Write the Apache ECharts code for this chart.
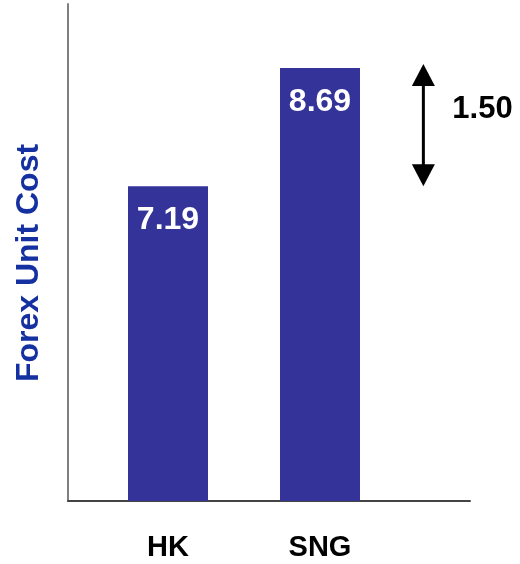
<!DOCTYPE html>
<html>
<head>
<meta charset="utf-8">
<script src="https://cdn.jsdelivr.net/npm/echarts@6/dist/echarts.min.js"></script>
<style>
  html, body { margin: 0; padding: 0; background: #fff; }
  #chart { width: 520px; height: 564px; }
</style>
</head>
<body>
<div id="chart"></div>
<script>
// Forex unit cost per market
const categories = ['HK', 'SNG'];
const costValues = [7.19, 8.69];
const axisTitle = 'Forex Unit Cost';

// Value range shown on the (unlabelled) vertical axis
const yMin = 3.2;
const yMax = 9.5;

const FONT = '"Liberation Sans", Arial, sans-serif';
const BAR_COLOR = '#333399';

// Difference between the two markets, shown beside the arrow
const low = Math.min(...costValues);
const high = Math.max(...costValues);
const diffText = (high - low).toFixed(2);

const chart = echarts.init(document.getElementById('chart'));

const option = {
  animation: false,
  backgroundColor: '#ffffff',
  grid: [
    // bars
    { left: 92, right: 124, top: 4, bottom: 63 },
    // frame and difference annotation
    { left: 68, right: 50, top: 4, bottom: 63 }
  ],
  xAxis: [
    {
      type: 'category',
      gridIndex: 0,
      data: categories,
      axisLine: { show: false },
      axisTick: { show: false },
      axisLabel: {
        margin: 32,
        color: '#000',
        fontFamily: FONT,
        fontWeight: 'bold',
        fontSize: 29
      }
    },
    {
      type: 'value',
      gridIndex: 1,
      min: 0,
      max: 100,
      axisLine: { show: true, onZero: false, lineStyle: { color: '#444', width: 2 } },
      axisTick: { show: false },
      axisLabel: { show: false },
      splitLine: { show: false }
    }
  ],
  yAxis: [
    {
      type: 'value',
      gridIndex: 0,
      min: yMin,
      max: yMax,
      axisLine: { show: false },
      axisTick: { show: false },
      axisLabel: { show: false },
      splitLine: { show: false }
    },
    {
      type: 'value',
      gridIndex: 1,
      min: yMin,
      max: yMax,
      axisLine: { show: true, lineStyle: { color: '#808080', width: 2 } },
      axisTick: { show: false },
      axisLabel: { show: false },
      splitLine: { show: false }
    }
  ],
  graphic: [
    {
      type: 'text',
      x: 29,
      y: 263,
      rotation: Math.PI / 2,
      style: {
        text: axisTitle,
        fill: '#1530a0',
        font: 'bold 32px ' + FONT,
        align: 'center',
        verticalAlign: 'middle'
      }
    }
  ],
  series: [
    {
      type: 'bar',
      xAxisIndex: 0,
      yAxisIndex: 0,
      data: costValues,
      barWidth: 80,
      itemStyle: { color: BAR_COLOR },
      label: {
        show: true,
        position: 'insideTop',
        distance: 18,
        color: '#ffffff',
        fontFamily: FONT,
        fontWeight: 'bold',
        fontSize: 32,
        formatter: (p) => p.value.toFixed(2)
      }
    },
    {
      // double-headed arrow spanning the gap between the two bar tops
      type: 'custom',
      xAxisIndex: 1,
      yAxisIndex: 1,
      data: [[88.4, low, high]],
      clip: false,
      renderItem: function (params, api) {
        const top = api.coord([api.value(0), api.value(2)]);
        const bottom = api.coord([api.value(0), api.value(1)]);
        const x = top[0];
        const headW = 23;
        const headH = 22;
        return {
          type: 'group',
          children: [
            {
              type: 'line',
              shape: { x1: x, y1: top[1] + headH - 6, x2: x, y2: bottom[1] - headH + 2 },
              style: { stroke: '#000', lineWidth: 3 }
            },
            {
              type: 'polygon',
              shape: { points: [[x, top[1] - 4], [x - headW / 2, top[1] + headH - 4], [x + headW / 2, top[1] + headH - 4]] },
              style: { fill: '#000' }
            },
            {
              type: 'polygon',
              shape: { points: [[x, bottom[1]], [x - headW / 2, bottom[1] - headH], [x + headW / 2, bottom[1] - headH]] },
              style: { fill: '#000' }
            },
            {
              type: 'text',
              x: x + 29,
              y: top[1] + 42,
              style: {
                text: diffText,
                fill: '#000',
                font: 'bold 31px ' + FONT,
                align: 'left',
                verticalAlign: 'middle'
              }
            }
          ]
        };
      }
    }
  ]
};

chart.setOption(option);
</script>
</body>
</html>
